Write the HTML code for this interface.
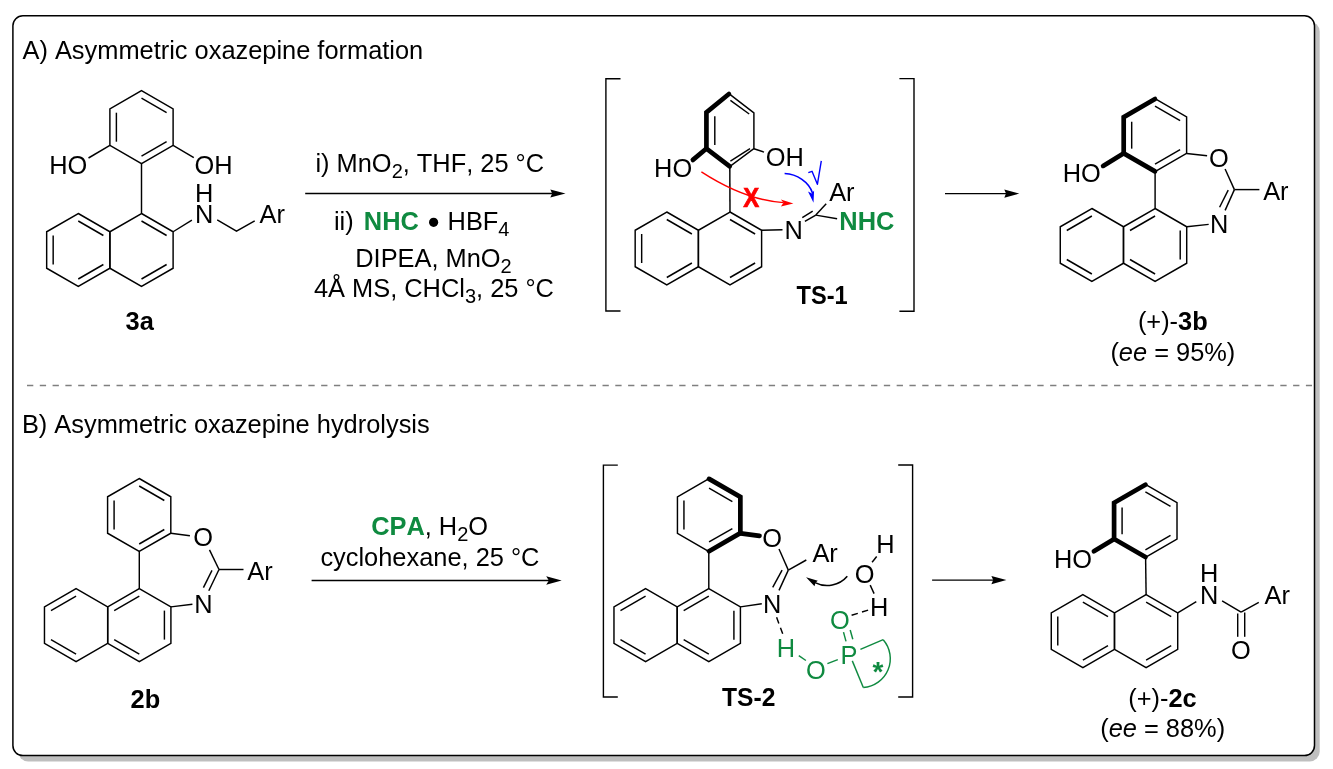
<!DOCTYPE html>
<html><head><meta charset="utf-8"><style>
html,body{margin:0;padding:0;background:#fff;width:1333px;height:769px;overflow:hidden}
svg{display:block;font-family:"Liberation Sans",sans-serif;font-kerning:none;will-change:transform}
</style></head><body>
<svg width="1333" height="769" viewBox="0 0 1333 769">
<rect x="18.1" y="21.6" width="1301.6" height="739.8" rx="10" ry="10" fill="#bfbfbf"/>
<rect x="12.9" y="15.8" width="1301.6" height="739.8" rx="10" ry="10" fill="#fff" stroke="#000" stroke-width="1.5"/>
<line x1="27" y1="385.5" x2="1312" y2="385.5" stroke="#7f7f7f" stroke-width="1.5" stroke-dasharray="6.3 6.489"/>
<text x="22.48" y="58.8" font-size="25.4" fill="#000" style="">A) Asymmetric oxazepine formation</text>
<text x="21.88" y="432.8" font-size="25.4" fill="#000" style="">B) Asymmetric oxazepine hydrolysis</text>
<polygon points="141.5,90.7 173.11,108.95 173.11,145.45 141.5,163.7 109.89,145.45 109.89,108.95" fill="none" stroke="#000" stroke-width="1.45" stroke-linejoin="miter"/>
<line x1="141.5" y1="98.2" x2="166.61" y2="112.7" stroke="#000" stroke-width="1.45" stroke-linecap="butt"/>
<line x1="166.61" y1="141.7" x2="141.5" y2="156.2" stroke="#000" stroke-width="1.45" stroke-linecap="butt"/>
<line x1="116.39" y1="141.7" x2="116.39" y2="112.7" stroke="#000" stroke-width="1.45" stroke-linecap="butt"/>
<line x1="141.5" y1="163.7" x2="141.5" y2="213.5" stroke="#000" stroke-width="1.45" stroke-linecap="butt"/>
<polygon points="141.5,213.5 173.11,231.75 173.11,268.25 141.5,286.5 109.89,268.25 109.89,231.75" fill="none" stroke="#000" stroke-width="1.45" stroke-linejoin="miter"/>
<line x1="141.5" y1="221" x2="166.61" y2="235.5" stroke="#000" stroke-width="1.45" stroke-linecap="butt"/>
<line x1="166.61" y1="264.5" x2="141.5" y2="279" stroke="#000" stroke-width="1.45" stroke-linecap="butt"/>
<polygon points="78.28,213.5 109.89,231.75 109.89,268.25 78.28,286.5 46.67,268.25 46.67,231.75" fill="none" stroke="#000" stroke-width="1.45" stroke-linejoin="miter"/>
<line x1="78.28" y1="221" x2="103.39" y2="235.5" stroke="#000" stroke-width="1.45" stroke-linecap="butt"/>
<line x1="103.39" y1="264.5" x2="78.28" y2="279" stroke="#000" stroke-width="1.45" stroke-linecap="butt"/>
<line x1="53.17" y1="264.5" x2="53.17" y2="235.5" stroke="#000" stroke-width="1.45" stroke-linecap="butt"/>
<line x1="109.89" y1="145.45" x2="88.5" y2="158" stroke="#000" stroke-width="1.45" stroke-linecap="butt"/>
<line x1="173.11" y1="145.45" x2="193.8" y2="157.6" stroke="#000" stroke-width="1.45" stroke-linecap="butt"/>
<line x1="173.11" y1="231.75" x2="191.9" y2="220.2" stroke="#000" stroke-width="1.45" stroke-linecap="butt"/>
<polyline points="217.2,219.9 236.5,231.2 254.7,220.8" fill="none" stroke="#000" stroke-width="1.45" stroke-linecap="butt" stroke-linejoin="miter"/>
<text x="49.27" y="173.5" font-size="25.4" fill="#000" style="">HO</text>
<text x="194.55" y="173.5" font-size="25.4" fill="#000" style="">OH</text>
<text x="194.97" y="222.8" font-size="25.4" fill="#000" style="">N</text>
<text x="194.97" y="201.9" font-size="25.4" fill="#000" style="">H</text>
<text x="259.57" y="222.8" font-size="25.4" fill="#000" style="">Ar</text>
<text x="125.58" y="330" font-size="25.4" fill="#000" style="font-weight:bold;">3a</text>
<line x1="305.2" y1="193.5" x2="552.7" y2="193.5" stroke="#000" stroke-width="1.4" stroke-linecap="butt"/>
<path d="M565.5,193.5 L550.3,189.4 L552.2,193.5 L550.3,197.6 Z" fill="#000"/>
<text x="315.45" y="172" font-size="25.4" fill="#000" style="">i) MnO<tspan font-size="20" dy="5.7">2</tspan><tspan dy="-5.7">, THF, 25 °C</tspan></text>
<text x="333.95" y="230" font-size="25.4" fill="#000" style="">ii)</text>
<text x="363.85" y="230" font-size="25.4" fill="#0f8a40" style="font-weight:bold;">NHC</text>
<circle cx="433.6" cy="222.3" r="4.6" fill="#000"/>
<text x="447.57" y="230" font-size="25.4" fill="#000" style="">HBF<tspan font-size="20" dy="5.7">4</tspan></text>
<text x="355.27" y="266.9" font-size="25.4" fill="#000" style="">DIPEA, MnO<tspan font-size="20" dy="5.7">2</tspan></text>
<text x="313.98" y="297.3" font-size="25.4" fill="#000" style="">4Å MS, CHCl<tspan font-size="20" dy="5.7">3</tspan><tspan dy="-5.7">, 25 °C</tspan></text>
<polyline points="620.5,78.7 605.9,78.7 605.9,311 620.5,311" fill="none" stroke="#000" stroke-width="1.4" stroke-linecap="butt" stroke-linejoin="miter"/>
<polyline points="899.4,78.6 914,78.6 914,311.2 899.4,311.2" fill="none" stroke="#000" stroke-width="1.4" stroke-linecap="butt" stroke-linejoin="miter"/>
<polygon points="728.9,93.7 753.9,112.8 753.9,148.7 729.7,166.6 706.2,148.7 706.2,112.2" fill="none" stroke="#000" stroke-width="1.45" stroke-linejoin="miter"/>
<polyline points="729.7,166.26 706.42,148.53 706.42,112.37 728.91,94.05" fill="none" stroke="#000" stroke-width="4.7" stroke-linejoin="miter" stroke-linecap="round"/>
<line x1="714.8" y1="116.2" x2="714.8" y2="145.1" stroke="#000" stroke-width="1.45" stroke-linecap="butt"/>
<line x1="730.4" y1="100.3" x2="749.2" y2="114" stroke="#000" stroke-width="1.45" stroke-linecap="butt"/>
<line x1="730.4" y1="161.2" x2="750" y2="148.7" stroke="#000" stroke-width="1.45" stroke-linecap="butt"/>
<line x1="706.2" y1="148.7" x2="692.9" y2="159.9" stroke="#000" stroke-width="4.7" stroke-linecap="round"/>
<line x1="753.9" y1="148.7" x2="764" y2="152.1" stroke="#000" stroke-width="1.45" stroke-linecap="butt"/>
<line x1="729.8" y1="166.6" x2="730" y2="212.5" stroke="#000" stroke-width="1.45" stroke-linecap="butt"/>
<polygon points="730,212 761.61,230.25 761.61,266.75 730,285 698.39,266.75 698.39,230.25" fill="none" stroke="#000" stroke-width="1.45" stroke-linejoin="miter"/>
<line x1="730" y1="219.5" x2="755.11" y2="234" stroke="#000" stroke-width="1.45" stroke-linecap="butt"/>
<line x1="755.11" y1="263" x2="730" y2="277.5" stroke="#000" stroke-width="1.45" stroke-linecap="butt"/>
<polygon points="666.78,212 698.39,230.25 698.39,266.75 666.78,285 635.17,266.75 635.17,230.25" fill="none" stroke="#000" stroke-width="1.45" stroke-linejoin="miter"/>
<line x1="666.78" y1="219.5" x2="691.89" y2="234" stroke="#000" stroke-width="1.45" stroke-linecap="butt"/>
<line x1="691.89" y1="263" x2="666.78" y2="277.5" stroke="#000" stroke-width="1.45" stroke-linecap="butt"/>
<line x1="641.67" y1="263" x2="641.67" y2="234" stroke="#000" stroke-width="1.45" stroke-linecap="butt"/>
<line x1="761.61" y1="230.25" x2="782.5" y2="229.8" stroke="#000" stroke-width="1.45" stroke-linecap="butt"/>
<line x1="804.9" y1="221.4" x2="815.8" y2="215.1" stroke="#000" stroke-width="1.45" stroke-linecap="butt"/>
<line x1="802.3" y1="217.7" x2="812.7" y2="211.2" stroke="#000" stroke-width="1.45" stroke-linecap="butt"/>
<line x1="815.8" y1="215.1" x2="826.2" y2="203.7" stroke="#000" stroke-width="1.45" stroke-linecap="butt"/>
<line x1="815.8" y1="215.1" x2="837.1" y2="218.8" stroke="#000" stroke-width="1.45" stroke-linecap="butt"/>
<text x="654.08" y="177" font-size="25.4" fill="#000" style="">HO</text>
<text x="765.85" y="165.9" font-size="25.4" fill="#000" style="">OH</text>
<text x="784.48" y="239" font-size="25.4" fill="#000" style="">N</text>
<text x="829.17" y="200.6" font-size="25.4" fill="#000" style="">Ar</text>
<text x="839.35" y="230.1" font-size="25.4" fill="#0f8a40" style="font-weight:bold;">NHC</text>
<text x="796.55" y="304.2" font-size="25.4" fill="#000" style="font-weight:bold;" transform="translate(796.8,0) scale(0.93,1) translate(-796.8,0)">TS-1</text>
<path d="M701.4,171.8 Q745,200 783.5,202.6" fill="none" stroke="#ff0000" stroke-width="1.4"/>
<path d="M793.4,203.4 L780.9,199.4 L783.5,202.8 L780.9,206.4 Z" fill="#ff0000"/>
<text x="742.55" y="206.9" font-size="26" fill="#ff0000" style="font-weight:bold;" stroke="#ff0000" stroke-width="0.7" transform="translate(750.5,197.5) scale(0.92,1.04) translate(-750.5,-197.5)">X</text>
<path d="M784.6,173.5 C797,174 809,182 812.5,193" fill="none" stroke="#0000ff" stroke-width="1.6"/>
<path d="M813.5,202.8 L808.0,191.4 L811.9,193.4 L814.1,190.4 Z" fill="#0000ff"/>
<polyline points="808.3,172.6 812,171.3 817.4,184.3 821.3,160.9" fill="none" stroke="#0000ff" stroke-width="1.4" stroke-linecap="butt" stroke-linejoin="round"/>
<line x1="945" y1="193.6" x2="1006.5" y2="193.6" stroke="#000" stroke-width="1.4" stroke-linecap="butt"/>
<path d="M1019.3,193.6 L1004.3,189.5 L1006,193.6 L1004.3,197.7 Z" fill="#000"/>
<polygon points="1155,98.7 1186.61,116.95 1186.61,153.45 1155,171.7 1123.39,153.45 1123.39,116.95" fill="none" stroke="#000" stroke-width="1.45" stroke-linejoin="miter"/>
<polyline points="1155,171.35 1123.69,153.28 1123.69,117.12 1155,99.05" fill="none" stroke="#000" stroke-width="4.7" stroke-linejoin="miter" stroke-linecap="round"/>
<line x1="1155" y1="106.2" x2="1180.11" y2="120.7" stroke="#000" stroke-width="1.45" stroke-linecap="butt"/>
<line x1="1180.11" y1="149.7" x2="1155" y2="164.2" stroke="#000" stroke-width="1.45" stroke-linecap="butt"/>
<line x1="1131.69" y1="148.66" x2="1131.69" y2="121.74" stroke="#000" stroke-width="1.45" stroke-linecap="butt"/>
<line x1="1123.39" y1="153.45" x2="1103.1" y2="165.9" stroke="#000" stroke-width="4.7" stroke-linecap="round"/>
<line x1="1186.61" y1="153.45" x2="1207.1" y2="155.8" stroke="#000" stroke-width="1.45" stroke-linecap="butt"/>
<line x1="1155.1" y1="171.7" x2="1155.1" y2="208.6" stroke="#000" stroke-width="1.45" stroke-linecap="butt"/>
<polygon points="1155.1,208.5 1186.71,226.75 1186.71,263.25 1155.1,281.5 1123.49,263.25 1123.49,226.75" fill="none" stroke="#000" stroke-width="1.45" stroke-linejoin="miter"/>
<line x1="1180.21" y1="230.5" x2="1180.21" y2="259.5" stroke="#000" stroke-width="1.45" stroke-linecap="butt"/>
<line x1="1155.1" y1="274" x2="1129.99" y2="259.5" stroke="#000" stroke-width="1.45" stroke-linecap="butt"/>
<line x1="1129.99" y1="230.5" x2="1155.1" y2="216" stroke="#000" stroke-width="1.45" stroke-linecap="butt"/>
<polygon points="1091.88,208.5 1123.49,226.75 1123.49,263.25 1091.88,281.5 1060.27,263.25 1060.27,226.75" fill="none" stroke="#000" stroke-width="1.45" stroke-linejoin="miter"/>
<line x1="1091.88" y1="274" x2="1066.77" y2="259.5" stroke="#000" stroke-width="1.45" stroke-linecap="butt"/>
<line x1="1066.77" y1="230.5" x2="1091.88" y2="216" stroke="#000" stroke-width="1.45" stroke-linecap="butt"/>
<line x1="1225.1" y1="169" x2="1234.4" y2="189.6" stroke="#000" stroke-width="1.45" stroke-linecap="butt"/>
<line x1="1234.4" y1="189.6" x2="1259.4" y2="189.6" stroke="#000" stroke-width="1.45" stroke-linecap="butt"/>
<line x1="1234.4" y1="189.6" x2="1225.1" y2="210.4" stroke="#000" stroke-width="1.45" stroke-linecap="butt"/>
<line x1="1228.2" y1="190.1" x2="1219.6" y2="207.3" stroke="#000" stroke-width="1.45" stroke-linecap="butt"/>
<line x1="1208.7" y1="224.4" x2="1186.71" y2="226.75" stroke="#000" stroke-width="1.45" stroke-linecap="butt"/>
<text x="1062.67" y="182.2" font-size="25.4" fill="#000" style="">HO</text>
<text x="1208.95" y="167.3" font-size="25.4" fill="#000" style="">O</text>
<text x="1263.17" y="200.2" font-size="25.4" fill="#000" style="">Ar</text>
<text x="1209.97" y="233" font-size="25.4" fill="#000" style="">N</text>
<text x="1137.88" y="330" font-size="25.4" fill="#000" style="">(+)-<tspan font-weight="bold">3b</tspan></text>
<text x="1110.38" y="360.6" font-size="25.4" fill="#000" style="">(<tspan font-style="italic">ee</tspan> = 95%)</text>
<polygon points="139.2,478.5 170.81,496.75 170.81,533.25 139.2,551.5 107.59,533.25 107.59,496.75" fill="none" stroke="#000" stroke-width="1.45" stroke-linejoin="miter"/>
<line x1="139.2" y1="486" x2="164.31" y2="500.5" stroke="#000" stroke-width="1.45" stroke-linecap="butt"/>
<line x1="164.31" y1="529.5" x2="139.2" y2="544" stroke="#000" stroke-width="1.45" stroke-linecap="butt"/>
<line x1="114.09" y1="529.5" x2="114.09" y2="500.5" stroke="#000" stroke-width="1.45" stroke-linecap="butt"/>
<line x1="170.81" y1="533.25" x2="189.9" y2="535.7" stroke="#000" stroke-width="1.45" stroke-linecap="butt"/>
<line x1="139.3" y1="551.5" x2="139.3" y2="589" stroke="#000" stroke-width="1.45" stroke-linecap="butt"/>
<polygon points="139.3,588.6 170.91,606.85 170.91,643.35 139.3,661.6 107.69,643.35 107.69,606.85" fill="none" stroke="#000" stroke-width="1.45" stroke-linejoin="miter"/>
<line x1="164.41" y1="610.6" x2="164.41" y2="639.6" stroke="#000" stroke-width="1.45" stroke-linecap="butt"/>
<line x1="139.3" y1="654.1" x2="114.19" y2="639.6" stroke="#000" stroke-width="1.45" stroke-linecap="butt"/>
<line x1="114.19" y1="610.6" x2="139.3" y2="596.1" stroke="#000" stroke-width="1.45" stroke-linecap="butt"/>
<polygon points="76.08,588.6 107.69,606.85 107.69,643.35 76.08,661.6 44.47,643.35 44.47,606.85" fill="none" stroke="#000" stroke-width="1.45" stroke-linejoin="miter"/>
<line x1="76.08" y1="654.1" x2="50.97" y2="639.6" stroke="#000" stroke-width="1.45" stroke-linecap="butt"/>
<line x1="50.97" y1="610.6" x2="76.08" y2="596.1" stroke="#000" stroke-width="1.45" stroke-linecap="butt"/>
<line x1="209.5" y1="549.9" x2="219" y2="569.5" stroke="#000" stroke-width="1.45" stroke-linecap="butt"/>
<line x1="219" y1="569.5" x2="243.5" y2="569.5" stroke="#000" stroke-width="1.45" stroke-linecap="butt"/>
<line x1="219" y1="569.5" x2="208.8" y2="590.7" stroke="#000" stroke-width="1.45" stroke-linecap="butt"/>
<line x1="212" y1="570.4" x2="203.4" y2="587.6" stroke="#000" stroke-width="1.45" stroke-linecap="butt"/>
<line x1="192.4" y1="604.3" x2="170.91" y2="606.85" stroke="#000" stroke-width="1.45" stroke-linecap="butt"/>
<text x="193.35" y="546.3" font-size="25.4" fill="#000" style="">O</text>
<text x="247.28" y="580.3" font-size="25.4" fill="#000" style="">Ar</text>
<text x="194.18" y="613" font-size="25.4" fill="#000" style="">N</text>
<text x="130.53" y="708" font-size="25.4" fill="#000" style="font-weight:bold;">2b</text>
<line x1="311.6" y1="580.5" x2="549.4" y2="580.5" stroke="#000" stroke-width="1.3" stroke-linecap="butt"/>
<path d="M561.7,580.5 L546.2,576.2 L548.9,580.5 L546.2,584.8 Z" fill="#000"/>
<text x="371.15" y="534.8" font-size="25.4" fill="#000" style=""><tspan fill="#0f8a40" font-weight="bold">CPA</tspan>, H<tspan font-size="20" dy="5.7">2</tspan><tspan dy="-5.7">O</tspan></text>
<text x="320.38" y="565.6" font-size="25.4" fill="#000" style="">cyclohexane, 25 °C</text>
<polyline points="617.8,465.1 603.4,465.1 603.4,697 617.8,697" fill="none" stroke="#000" stroke-width="1.4" stroke-linecap="butt" stroke-linejoin="miter"/>
<polyline points="898.2,465 912.6,465 912.6,697 898.2,697" fill="none" stroke="#000" stroke-width="1.4" stroke-linecap="butt" stroke-linejoin="miter"/>
<polygon points="709.05,478.55 740.66,496.8 740.66,533.3 709.05,551.55 677.44,533.3 677.44,496.8" fill="none" stroke="#000" stroke-width="1.45" stroke-linejoin="miter"/>
<polyline points="709.05,478.9 740.36,496.97 740.36,533.13 709.05,551.2" fill="none" stroke="#000" stroke-width="4.7" stroke-linejoin="miter" stroke-linecap="round"/>
<line x1="709.05" y1="488.13" x2="732.36" y2="501.59" stroke="#000" stroke-width="1.45" stroke-linecap="butt"/>
<line x1="732.36" y1="528.51" x2="709.05" y2="541.97" stroke="#000" stroke-width="1.45" stroke-linecap="butt"/>
<line x1="683.94" y1="529.55" x2="683.94" y2="500.55" stroke="#000" stroke-width="1.45" stroke-linecap="butt"/>
<line x1="740.66" y1="533.3" x2="759.5" y2="535.8" stroke="#000" stroke-width="4.7" stroke-linecap="round"/>
<line x1="708.8" y1="551.5" x2="708.8" y2="588.7" stroke="#000" stroke-width="1.45" stroke-linecap="butt"/>
<polygon points="708.8,588.65 740.41,606.9 740.41,643.4 708.8,661.65 677.19,643.4 677.19,606.9" fill="none" stroke="#000" stroke-width="1.45" stroke-linejoin="miter"/>
<line x1="733.91" y1="610.65" x2="733.91" y2="639.65" stroke="#000" stroke-width="1.45" stroke-linecap="butt"/>
<line x1="708.8" y1="654.15" x2="683.69" y2="639.65" stroke="#000" stroke-width="1.45" stroke-linecap="butt"/>
<line x1="683.69" y1="610.65" x2="708.8" y2="596.15" stroke="#000" stroke-width="1.45" stroke-linecap="butt"/>
<polygon points="645.58,588.65 677.19,606.9 677.19,643.4 645.58,661.65 613.97,643.4 613.97,606.9" fill="none" stroke="#000" stroke-width="1.45" stroke-linejoin="miter"/>
<line x1="645.58" y1="654.15" x2="620.47" y2="639.65" stroke="#000" stroke-width="1.45" stroke-linecap="butt"/>
<line x1="620.47" y1="610.65" x2="645.58" y2="596.15" stroke="#000" stroke-width="1.45" stroke-linecap="butt"/>
<line x1="779" y1="549" x2="788.3" y2="570.1" stroke="#000" stroke-width="1.45" stroke-linecap="butt"/>
<line x1="788.3" y1="570.1" x2="806.3" y2="560" stroke="#000" stroke-width="1.45" stroke-linecap="butt"/>
<line x1="788.3" y1="570.1" x2="779" y2="590.4" stroke="#000" stroke-width="1.45" stroke-linecap="butt"/>
<line x1="782.1" y1="570.1" x2="772.7" y2="587.3" stroke="#000" stroke-width="1.45" stroke-linecap="butt"/>
<line x1="761.8" y1="603.7" x2="740.41" y2="606.9" stroke="#000" stroke-width="1.45" stroke-linecap="butt"/>
<text x="762.15" y="547" font-size="25.4" fill="#000" style="">O</text>
<text x="812.38" y="561.8" font-size="25.4" fill="#000" style="">Ar</text>
<text x="763.08" y="613" font-size="25.4" fill="#000" style="">N</text>
<text x="854.65" y="582.5" font-size="25.4" fill="#000" style="">O</text>
<text x="876.27" y="552.6" font-size="25.4" fill="#000" style="">H</text>
<text x="869.98" y="616.4" font-size="25.4" fill="#000" style="">H</text>
<line x1="872.1" y1="562.3" x2="876.7" y2="556.5" stroke="#000" stroke-width="1.45" stroke-linecap="butt"/>
<line x1="870.2" y1="585.1" x2="874.1" y2="593.6" stroke="#000" stroke-width="1.45" stroke-linecap="butt"/>
<path d="M847.3,576.2 A26.6,26.6 0 0 1 815.0,582.6" fill="none" stroke="#000" stroke-width="1.6"/>
<path d="M806.05,577.3 L817.8,580.8 L815.4,582.8 L814.5,586.3 Z" fill="#000"/>
<line x1="776.6" y1="617.3" x2="782.7" y2="633.8" stroke="#000" stroke-width="1.45" stroke-linecap="butt" stroke-dasharray="6.5 4.6"/>
<line x1="851.6" y1="615.3" x2="868.1" y2="610.1" stroke="#000" stroke-width="1.45" stroke-linecap="butt" stroke-dasharray="6.5 4.4"/>
<text x="776.77" y="656.6" font-size="25.4" fill="#0f8a40" style="">H</text>
<text x="805.95" y="678.5" font-size="25.4" fill="#0f8a40" style="">O</text>
<text x="840.48" y="663.7" font-size="25.4" fill="#0f8a40" style="">P</text>
<text x="830.05" y="628.5" font-size="25.4" fill="#0f8a40" style="">O</text>
<line x1="798.8" y1="655.7" x2="805.9" y2="660.5" stroke="#0f8a40" stroke-width="1.45" stroke-linecap="butt"/>
<line x1="827.4" y1="663.7" x2="837.8" y2="659.6" stroke="#0f8a40" stroke-width="1.45" stroke-linecap="butt"/>
<line x1="843.5" y1="632.1" x2="846" y2="641.4" stroke="#0f8a40" stroke-width="1.45" stroke-linecap="butt"/>
<line x1="850.2" y1="630" x2="852.8" y2="639.3" stroke="#0f8a40" stroke-width="1.45" stroke-linecap="butt"/>
<line x1="860.4" y1="649.4" x2="883.2" y2="639.7" stroke="#0f8a40" stroke-width="1.45" stroke-linecap="butt"/>
<line x1="852.3" y1="660.9" x2="863.3" y2="687.5" stroke="#0f8a40" stroke-width="1.45" stroke-linecap="butt"/>
<path d="M883.2,639.7 A28.9,28.9 0 0 1 863.3,687.5" fill="none" stroke="#0f8a40" stroke-width="1.45"/>
<text x="872.48" y="681" font-size="28" fill="#0f8a40" style="font-weight:bold;">*</text>
<text x="722.05" y="705.6" font-size="25.4" fill="#000" style="font-weight:bold;" transform="translate(722.3,0) scale(0.97,1) translate(-722.3,0)">TS-2</text>
<line x1="932.1" y1="580.1" x2="993.7" y2="580.1" stroke="#000" stroke-width="1.2" stroke-linecap="butt"/>
<path d="M1006.4,580.1 L991.4,576 L993.2,580.1 L991.4,584.2 Z" fill="#000"/>
<polygon points="1145.4,484.4 1177.01,502.65 1177.01,539.15 1145.4,557.4 1113.79,539.15 1113.79,502.65" fill="none" stroke="#000" stroke-width="1.45" stroke-linejoin="miter"/>
<polyline points="1145.4,557.05 1114.09,538.98 1114.09,502.82 1145.4,484.75" fill="none" stroke="#000" stroke-width="4.7" stroke-linejoin="miter" stroke-linecap="round"/>
<line x1="1145.4" y1="491.9" x2="1170.51" y2="506.4" stroke="#000" stroke-width="1.45" stroke-linecap="butt"/>
<line x1="1170.51" y1="535.4" x2="1145.4" y2="549.9" stroke="#000" stroke-width="1.45" stroke-linecap="butt"/>
<line x1="1122.09" y1="534.36" x2="1122.09" y2="507.44" stroke="#000" stroke-width="1.45" stroke-linecap="butt"/>
<line x1="1113.79" y1="539.15" x2="1093.9" y2="551.2" stroke="#000" stroke-width="4.7" stroke-linecap="round"/>
<line x1="1145.6" y1="557.6" x2="1146.1" y2="595" stroke="#000" stroke-width="1.45" stroke-linecap="butt"/>
<polygon points="1146.1,594.6 1177.71,612.85 1177.71,649.35 1146.1,667.6 1114.49,649.35 1114.49,612.85" fill="none" stroke="#000" stroke-width="1.45" stroke-linejoin="miter"/>
<line x1="1146.1" y1="602.1" x2="1171.21" y2="616.6" stroke="#000" stroke-width="1.45" stroke-linecap="butt"/>
<line x1="1171.21" y1="645.6" x2="1146.1" y2="660.1" stroke="#000" stroke-width="1.45" stroke-linecap="butt"/>
<polygon points="1082.88,594.6 1114.49,612.85 1114.49,649.35 1082.88,667.6 1051.27,649.35 1051.27,612.85" fill="none" stroke="#000" stroke-width="1.45" stroke-linejoin="miter"/>
<line x1="1082.88" y1="602.1" x2="1107.99" y2="616.6" stroke="#000" stroke-width="1.45" stroke-linecap="butt"/>
<line x1="1107.99" y1="645.6" x2="1082.88" y2="660.1" stroke="#000" stroke-width="1.45" stroke-linecap="butt"/>
<line x1="1057.77" y1="645.6" x2="1057.77" y2="616.6" stroke="#000" stroke-width="1.45" stroke-linecap="butt"/>
<line x1="1177.71" y1="612.85" x2="1196.3" y2="601.7" stroke="#000" stroke-width="1.45" stroke-linecap="butt"/>
<line x1="1222.1" y1="600.9" x2="1241.1" y2="612.1" stroke="#000" stroke-width="1.45" stroke-linecap="butt"/>
<line x1="1241.1" y1="612.1" x2="1258.8" y2="602.4" stroke="#000" stroke-width="1.45" stroke-linecap="butt"/>
<line x1="1237.7" y1="613.5" x2="1237.7" y2="636.8" stroke="#000" stroke-width="1.45" stroke-linecap="butt"/>
<line x1="1244.7" y1="612.5" x2="1244.7" y2="636.8" stroke="#000" stroke-width="1.45" stroke-linecap="butt"/>
<text x="1053.97" y="568" font-size="25.4" fill="#000" style="">HO</text>
<text x="1199.97" y="604" font-size="25.4" fill="#000" style="">N</text>
<text x="1199.97" y="582.1" font-size="25.4" fill="#000" style="">H</text>
<text x="1264.47" y="604" font-size="25.4" fill="#000" style="">Ar</text>
<text x="1230.95" y="659" font-size="25.4" fill="#000" style="">O</text>
<text x="1128.28" y="706.5" font-size="25.4" fill="#000" style="">(+)-<tspan font-weight="bold">2c</tspan></text>
<text x="1100.17" y="737.2" font-size="25.4" fill="#000" style="">(<tspan font-style="italic">ee</tspan> = 88%)</text>
</svg>
</body></html>
